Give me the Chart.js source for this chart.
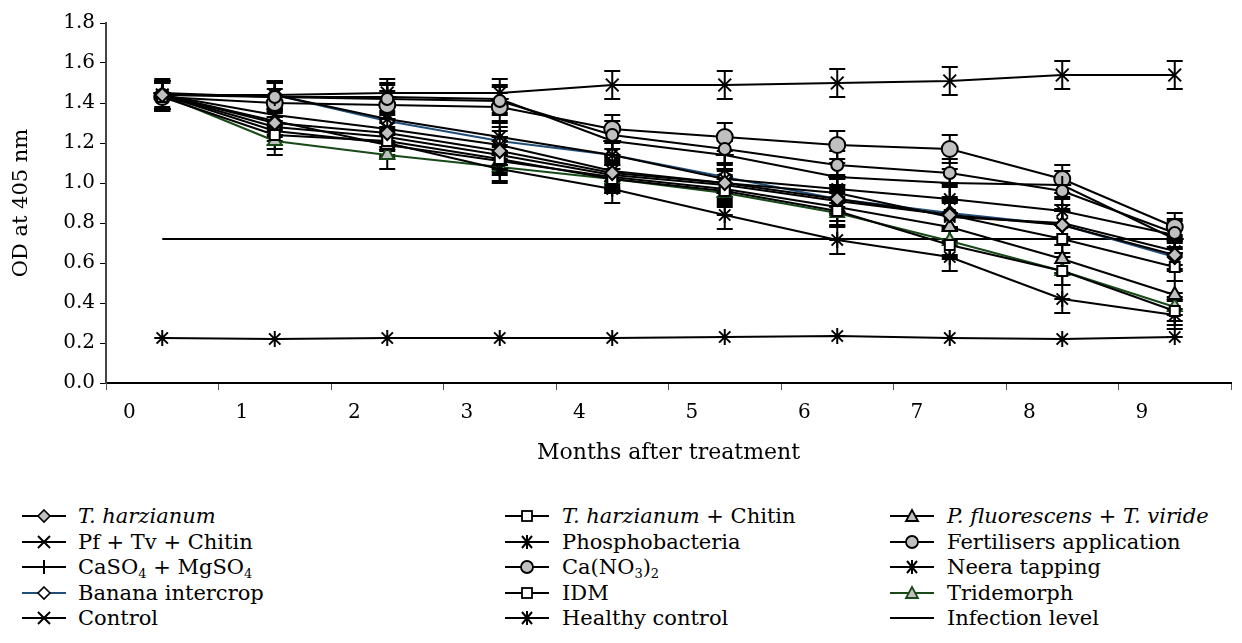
<!DOCTYPE html>
<html>
<head>
<meta charset="utf-8">
<script src="https://cdn.jsdelivr.net/npm/chart.js@4.4.1/dist/chart.umd.min.js"></script>
<style>
body { margin: 0; background: #fff; font-family: "DejaVu Serif", serif; }
#wrap { position: relative; width: 1242px; height: 643px; }
#chart { position: absolute; left: 0; top: 0; }
.item { position: absolute; height: 24px; font-size: 21px; line-height: 24px; white-space: nowrap; color: #000; }
.item svg { position: absolute; left: 0; top: 0; }
.item span { position: absolute; top: 0; }
sub { font-size: 13px; vertical-align: -4px; line-height: 0; }
</style>
</head>
<body>
<div id="wrap">
  <canvas id="chart" width="1242" height="480"></canvas>
  <div id="legend"></div>
</div>
<script>
const months = ['0', '1', '2', '3', '4', '5', '6', '7', '8', '9'];

const tHarzianum      = [1.44, 1.30, 1.25, 1.16, 1.05, 1.00, 0.92, 0.84, 0.79, 0.64];
const tHarzChitin     = [1.43, 1.24, 1.21, 1.12, 1.02, 0.96, 0.86, 0.69, 0.56, 0.36];
const pfTv            = [1.44, 1.31, 1.19, 1.11, 1.03, 0.97, 0.88, 0.78, 0.62, 0.44];
const pfTvChitin      = [1.44, 1.34, 1.27, 1.19, 1.06, 1.00, 0.95, 0.83, 0.80, 0.66];
const phosphobacteria = [1.44, 1.26, 1.20, 1.07, 0.97, 0.84, 0.715, 0.63, 0.42, 0.34];
const fertilisers     = [1.44, 1.43, 1.42, 1.41, 1.24, 1.17, 1.09, 1.05, 0.96, 0.75];
const caMgSO4         = [1.45, 1.43, 1.43, 1.42, 1.21, 1.14, 1.03, 1.00, 0.99, 0.72];
const caNO3           = [1.43, 1.40, 1.39, 1.38, 1.27, 1.23, 1.19, 1.17, 1.02, 0.78];
const neeraTapping    = [1.44, 1.44, 1.32, 1.23, 1.14, 1.02, 0.97, 0.92, 0.86, 0.74];
const bananaIntercrop = [1.44, 1.44, 1.31, 1.21, 1.14, 1.03, 0.92, 0.85, 0.79, 0.63];
const idm             = [1.44, 1.28, 1.23, 1.14, 1.04, 0.99, 0.91, 0.84, 0.72, 0.58];
const tridemorph      = [1.44, 1.21, 1.14, 1.08, 1.02, 0.95, 0.85, 0.71, 0.56, 0.38];
const control         = [1.44, 1.44, 1.45, 1.45, 1.49, 1.49, 1.50, 1.51, 1.54, 1.54];
const healthyControl  = [0.225, 0.22, 0.225, 0.225, 0.225, 0.23, 0.235, 0.225, 0.22, 0.23];
const infectionLevel  = [0.72, 0.72, 0.72, 0.72, 0.72, 0.72, 0.72, 0.72, 0.72, 0.72];
const errorMargin     = [0.07, 0.07, 0.07, 0.07, 0.07, 0.07, 0.07, 0.07, 0.07, 0.07];

const yTicks = [0, 0.2, 0.4, 0.6, 0.8, 1.0, 1.2, 1.4, 1.6, 1.8];

const FONT = '"DejaVu Serif", serif';
const GREY = '#c0c0c0';
const BLUE = '#1f4e79';
const GREEN = '#174a17';

function series(label, data, style, fill, color, radius, err) {
    return {
        label: label,
        data: data,
        borderColor: color || '#000',
        borderWidth: 2,
        pointStyle: style,
        pointRadius: radius || 7,
        pointBackgroundColor: fill || '#fff',
        pointBorderColor: color || '#000',
        pointBorderWidth: 2,
        tension: 0,
        errorBars: err !== false
    };
}

const datasets = [
    series('T. harzianum', tHarzianum, 'rectRot', GREY),
    series('T. harzianum + Chitin', tHarzChitin, 'rect', '#fff', '#000', 7),
    series('P. fluorescens + T. viride', pfTv, 'triangle', GREY, '#000', 8),
    series('Pf + Tv + Chitin', pfTvChitin, 'crossRot', '#000', '#000', 8),
    series('Phosphobacteria', phosphobacteria, 'star', '#000', '#000', 8),
    series('Fertilisers application', fertilisers, 'circle', GREY, '#000', 6),
    series('CaSO4 + MgSO4', caMgSO4, 'cross', '#000', '#000', 9),
    series('Ca(NO3)2', caNO3, 'circle', GREY, '#000', 8),
    series('Neera tapping', neeraTapping, 'star', '#000', '#000', 8),
    series('Banana intercrop', bananaIntercrop, 'rectRot', '#fff', BLUE),
    series('IDM', idm, 'rect', '#fff', '#000', 7),
    series('Tridemorph', tridemorph, 'triangle', GREY, GREEN, 8),
    series('Control', control, 'crossRot', '#000', '#000', 9),
    series('Healthy control', healthyControl, 'star', '#000', '#000', 8, false),
    Object.assign(series('Infection level', infectionLevel, 'circle', '#000', '#000', 0, false), { pointRadius: 0 })
];
// banana intercrop markers keep a black outline as in the figure
datasets[9].pointBorderColor = '#000';

const errorBars = {
    id: 'errorBars',
    beforeDatasetsDraw(chart) {
        const ctx = chart.ctx;
        const y = chart.scales.y;
        ctx.save();
        ctx.strokeStyle = '#000';
        ctx.lineWidth = 2;
        chart.data.datasets.forEach((ds, i) => {
            if (!ds.errorBars) return;
            chart.getDatasetMeta(i).data.forEach((pt, j) => {
                const top = y.getPixelForValue(ds.data[j] + errorMargin[j]);
                const bot = y.getPixelForValue(ds.data[j] - errorMargin[j]);
                ctx.beginPath();
                ctx.moveTo(pt.x, top); ctx.lineTo(pt.x, bot);
                ctx.moveTo(pt.x - 8, top); ctx.lineTo(pt.x + 8, top);
                ctx.moveTo(pt.x - 8, bot); ctx.lineTo(pt.x + 8, bot);
                ctx.stroke();
            });
        });
        ctx.restore();
    }
};

const ctx = document.getElementById('chart').getContext('2d');
const chart = new Chart(ctx, {
    type: 'line',
    data: { labels: months, datasets: datasets },
    options: {
        responsive: false,
        animation: false,
        layout: { padding: { top: 23, right: 4, left: 0, bottom: 0 } },
        plugins: { legend: { display: false }, tooltip: { enabled: false } },
        scales: {
            x: {
                offset: true,
                grid: { offset: true, drawOnChartArea: false, tickLength: 7, color: '#555', lineWidth: 1 },
                border: { color: '#000', width: 2 },
                ticks: { labelOffset: -33, padding: 11, color: '#000', font: { family: FONT, size: 20 } },
                title: { display: true, text: 'Months after treatment', color: '#000',
                         font: { family: FONT, size: 22 }, padding: { bottom: 14 } },
                afterFit: s => { s.height = 97; }
            },
            y: {
                min: 0,
                max: 1.8,
                afterBuildTicks: s => { s.ticks = yTicks.map(v => ({ value: v })); },
                ticks: { padding: 5, color: '#000', font: { family: FONT, size: 20 },
                         callback: v => Number(v).toFixed(1) },
                grid: { drawOnChartArea: false, tickLength: 6, color: '#000' },
                border: { color: '#444', width: 2 },
                title: { display: true, text: 'OD at 405 nm', color: '#000',
                         font: { family: FONT, size: 21 }, padding: { top: 9 } },
                afterFit: s => { s.width = 106; }
            }
        }
    },
    plugins: [errorBars]
});

// legend (HTML so italics and subscripts stay real text)
function marker(style, fill, line) {
    const c = 22, cy = 12;
    let m = '';
    if (style === 'rectRot') m = `<polygon points="${c},${cy-6} ${c+6},${cy} ${c},${cy+6} ${c-6},${cy}" fill="${fill}" stroke="#000" stroke-width="1.6"/>`;
    if (style === 'rect') m = `<rect x="${c-5}" y="${cy-5}" width="10" height="10" fill="#fff" stroke="#000" stroke-width="1.8"/>`;
    if (style === 'triangle') m = `<polygon points="${c},${cy-6} ${c+6},${cy+5} ${c-6},${cy+5}" fill="${GREY}" stroke="${line}" stroke-width="1.8"/>`;
    if (style === 'crossRot') m = `<path d="M${c-6} ${cy-6}L${c+6} ${cy+6}M${c+6} ${cy-6}L${c-6} ${cy+6}" stroke="#000" stroke-width="2"/>`;
    if (style === 'star') m = `<path d="M${c-5} ${cy-6}L${c+5} ${cy+6}M${c+5} ${cy-6}L${c-5} ${cy+6}M${c} ${cy-7}L${c} ${cy+7}" stroke="#000" stroke-width="2"/>`;
    if (style === 'cross') m = `<path d="M${c} ${cy-7}L${c} ${cy+7}" stroke="#000" stroke-width="2"/>`;
    if (style === 'circle') m = `<circle cx="${c}" cy="${cy}" r="6" fill="${GREY}" stroke="#000" stroke-width="1.8"/>`;
    return `<svg width="44" height="24"><line x1="0" y1="${cy}" x2="44" y2="${cy}" stroke="${line}" stroke-width="2"/>${m}</svg>`;
}

const legendItems = [
    ['<i>T. harzianum</i>', 'rectRot', GREY, '#000'],
    ['<i>T. harzianum</i> + Chitin', 'rect', '#fff', '#000'],
    ['<i>P. fluorescens</i> + <i>T. viride</i>', 'triangle', GREY, '#000'],
    ['Pf + Tv + Chitin', 'crossRot', '#000', '#000'],
    ['Phosphobacteria', 'star', '#000', '#000'],
    ['Fertilisers application', 'circle', GREY, '#000'],
    ['CaSO<sub>4</sub> + MgSO<sub>4</sub>', 'cross', '#000', '#000'],
    ['Ca(NO<sub>3</sub>)<sub>2</sub>', 'circle', GREY, '#000'],
    ['Neera tapping', 'star', '#000', '#000'],
    ['Banana intercrop', 'rectRot', '#fff', BLUE],
    ['IDM', 'rect', '#fff', '#000'],
    ['Tridemorph', 'triangle', GREY, GREEN],
    ['Control', 'crossRot', '#000', '#000'],
    ['Healthy control', 'star', '#000', '#000'],
    ['Infection level', 'none', '#000', '#000']
];
const colX = [22, 505, 890];
const rowY = [516, 541.5, 567, 592.5, 618];
const legend = document.getElementById('legend');
legendItems.forEach((it, i) => {
    const d = document.createElement('div');
    d.className = 'item';
    d.style.left = colX[i % 3] + 'px';
    d.style.top = (rowY[Math.floor(i / 3)] - 12) + 'px';
    d.innerHTML = marker(it[1], it[2], it[3]) + `<span style="left:${i % 3 === 0 ? 56 : 57}px">${it[0]}</span>`;
    legend.appendChild(d);
});
</script>
</body>
</html>
